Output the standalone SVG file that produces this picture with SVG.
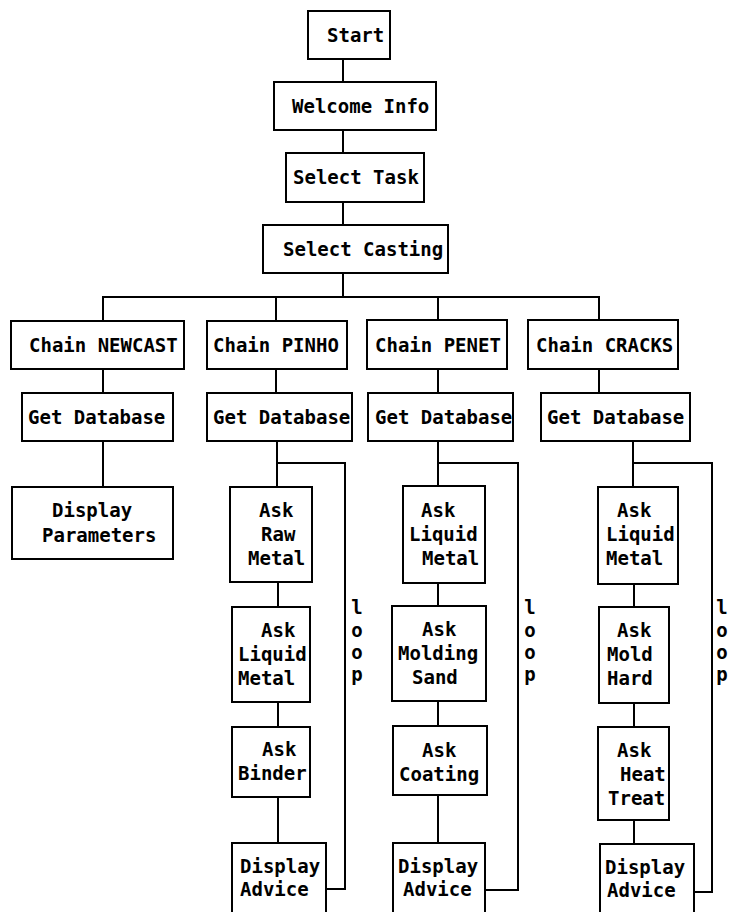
<svg xmlns="http://www.w3.org/2000/svg" width="730" height="912" viewBox="0 0 730 912">
<style>
rect{fill:#fff;stroke:#000;stroke-width:2}
#connectors path{fill:none;stroke:#000;stroke-width:2}
text{font-family:"DejaVu Sans Mono","Liberation Mono",monospace;font-weight:bold;font-size:19px;fill:#000}
</style>
<rect x="0" y="0" width="730" height="912" style="stroke:none"/>
<g id="connectors">
<path d="M343 59V82M343 130V153M343 202V225M343 273V297"/>
<path d="M103 321V297H599V320M276 297V321M438 297V320"/>
<path d="M103 369V393M103 441V487"/>
<path d="M276 369V393M277 441V487M277 463H345V889H326"/>
<path d="M278 582V607M278 702V727M278 797V843"/>
<path d="M438 369V393M438 441V486M438 463H518V890H485"/>
<path d="M438 583V606M438 701V726M438 795V843"/>
<path d="M599 369V393M633 441V487M633 463H712V892H694"/>
<path d="M634 584V607M634 703V727M634 820V844"/>
</g>
<g id="start"><rect x="308" y="11" width="82" height="48"/><text x="327" y="42">Start</text></g>
<g id="welcome"><rect x="274" y="82" width="162" height="48"/><text x="292" y="113">Welcome Info</text></g>
<g id="selectTask"><rect x="286" y="153" width="138" height="49"/><text x="293" y="184">Select Task</text></g>
<g id="selectCasting"><rect x="263" y="225" width="185" height="48"/><text x="283" y="256">Select Casting</text></g>
<g id="chainNewcast"><rect x="11" y="321" width="173" height="48"/><text x="29" y="352">Chain NEWCAST</text></g>
<g id="chainPinho"><rect x="207" y="321" width="140" height="48"/><text x="213" y="352">Chain PINHO</text></g>
<g id="chainPenet"><rect x="367" y="320" width="140" height="49"/><text x="375" y="352">Chain PENET</text></g>
<g id="chainCracks"><rect x="528" y="320" width="150" height="49"/><text x="536" y="352">Chain CRACKS</text></g>
<g id="getDb1"><rect x="22" y="393" width="151" height="48"/><text x="28" y="424">Get Database</text></g>
<g id="getDb2"><rect x="207" y="393" width="145" height="48"/><text x="213" y="424">Get Database</text></g>
<g id="getDb3"><rect x="368" y="393" width="145" height="48"/><text x="375" y="424">Get Database</text></g>
<g id="getDb4"><rect x="541" y="393" width="149" height="48"/><text x="547" y="424">Get Database</text></g>
<g id="displayParams"><rect x="12" y="487" width="161" height="72"/><text x="52" y="517">Display</text><text x="42" y="542">Parameters</text></g>
<g id="askRawMetal"><rect x="230" y="487" width="82" height="95"/><text x="259" y="517">Ask</text><text x="261" y="541">Raw</text><text x="248" y="565">Metal</text></g>
<g id="askLiquid2"><rect x="232" y="607" width="78" height="95"/><text x="261" y="637">Ask</text><text x="238" y="661">Liquid</text><text x="238" y="685">Metal</text></g>
<g id="askBinder"><rect x="232" y="727" width="78" height="70"/><text x="262" y="756">Ask</text><text x="238" y="780">Binder</text></g>
<g id="displayAdvice2"><rect x="232" y="843" width="94" height="80"/><text x="240" y="873">Display</text><text x="240" y="896">Advice</text></g>
<g id="askLiquid3"><rect x="403" y="486" width="82" height="97"/><text x="421" y="517">Ask</text><text x="409" y="541">Liquid</text><text x="422" y="565">Metal</text></g>
<g id="askMolding"><rect x="392" y="606" width="94" height="95"/><text x="422" y="636">Ask</text><text x="398" y="660">Molding</text><text x="412" y="684">Sand</text></g>
<g id="askCoating"><rect x="393" y="726" width="94" height="69"/><text x="422" y="757">Ask</text><text x="399" y="781">Coating</text></g>
<g id="displayAdvice3"><rect x="393" y="843" width="92" height="80"/><text x="398" y="873">Display</text><text x="403" y="896">Advice</text></g>
<g id="askLiquid4"><rect x="598" y="487" width="80" height="97"/><text x="617" y="517">Ask</text><text x="606" y="541">Liquid</text><text x="606" y="565">Metal</text></g>
<g id="askMoldHard"><rect x="599" y="607" width="70" height="96"/><text x="617" y="637">Ask</text><text x="607" y="661">Mold</text><text x="607" y="685">Hard</text></g>
<g id="askHeatTreat"><rect x="598" y="727" width="71" height="93"/><text x="617" y="757">Ask</text><text x="620" y="781">Heat</text><text x="608" y="805">Treat</text></g>
<g id="displayAdvice4"><rect x="600" y="844" width="94" height="80"/><text x="605" y="874">Display</text><text x="607" y="897">Advice</text></g>
<g id="loop2"><text x="357" y="614" text-anchor="middle">l</text><text x="357" y="637" text-anchor="middle">o</text><text x="357" y="659" text-anchor="middle">o</text><text x="357" y="681" text-anchor="middle">p</text></g>
<g id="loop3"><text x="530" y="614" text-anchor="middle">l</text><text x="530" y="637" text-anchor="middle">o</text><text x="530" y="659" text-anchor="middle">o</text><text x="530" y="681" text-anchor="middle">p</text></g>
<g id="loop4"><text x="722" y="614" text-anchor="middle">l</text><text x="722" y="637" text-anchor="middle">o</text><text x="722" y="659" text-anchor="middle">o</text><text x="722" y="681" text-anchor="middle">p</text></g>
</svg>
